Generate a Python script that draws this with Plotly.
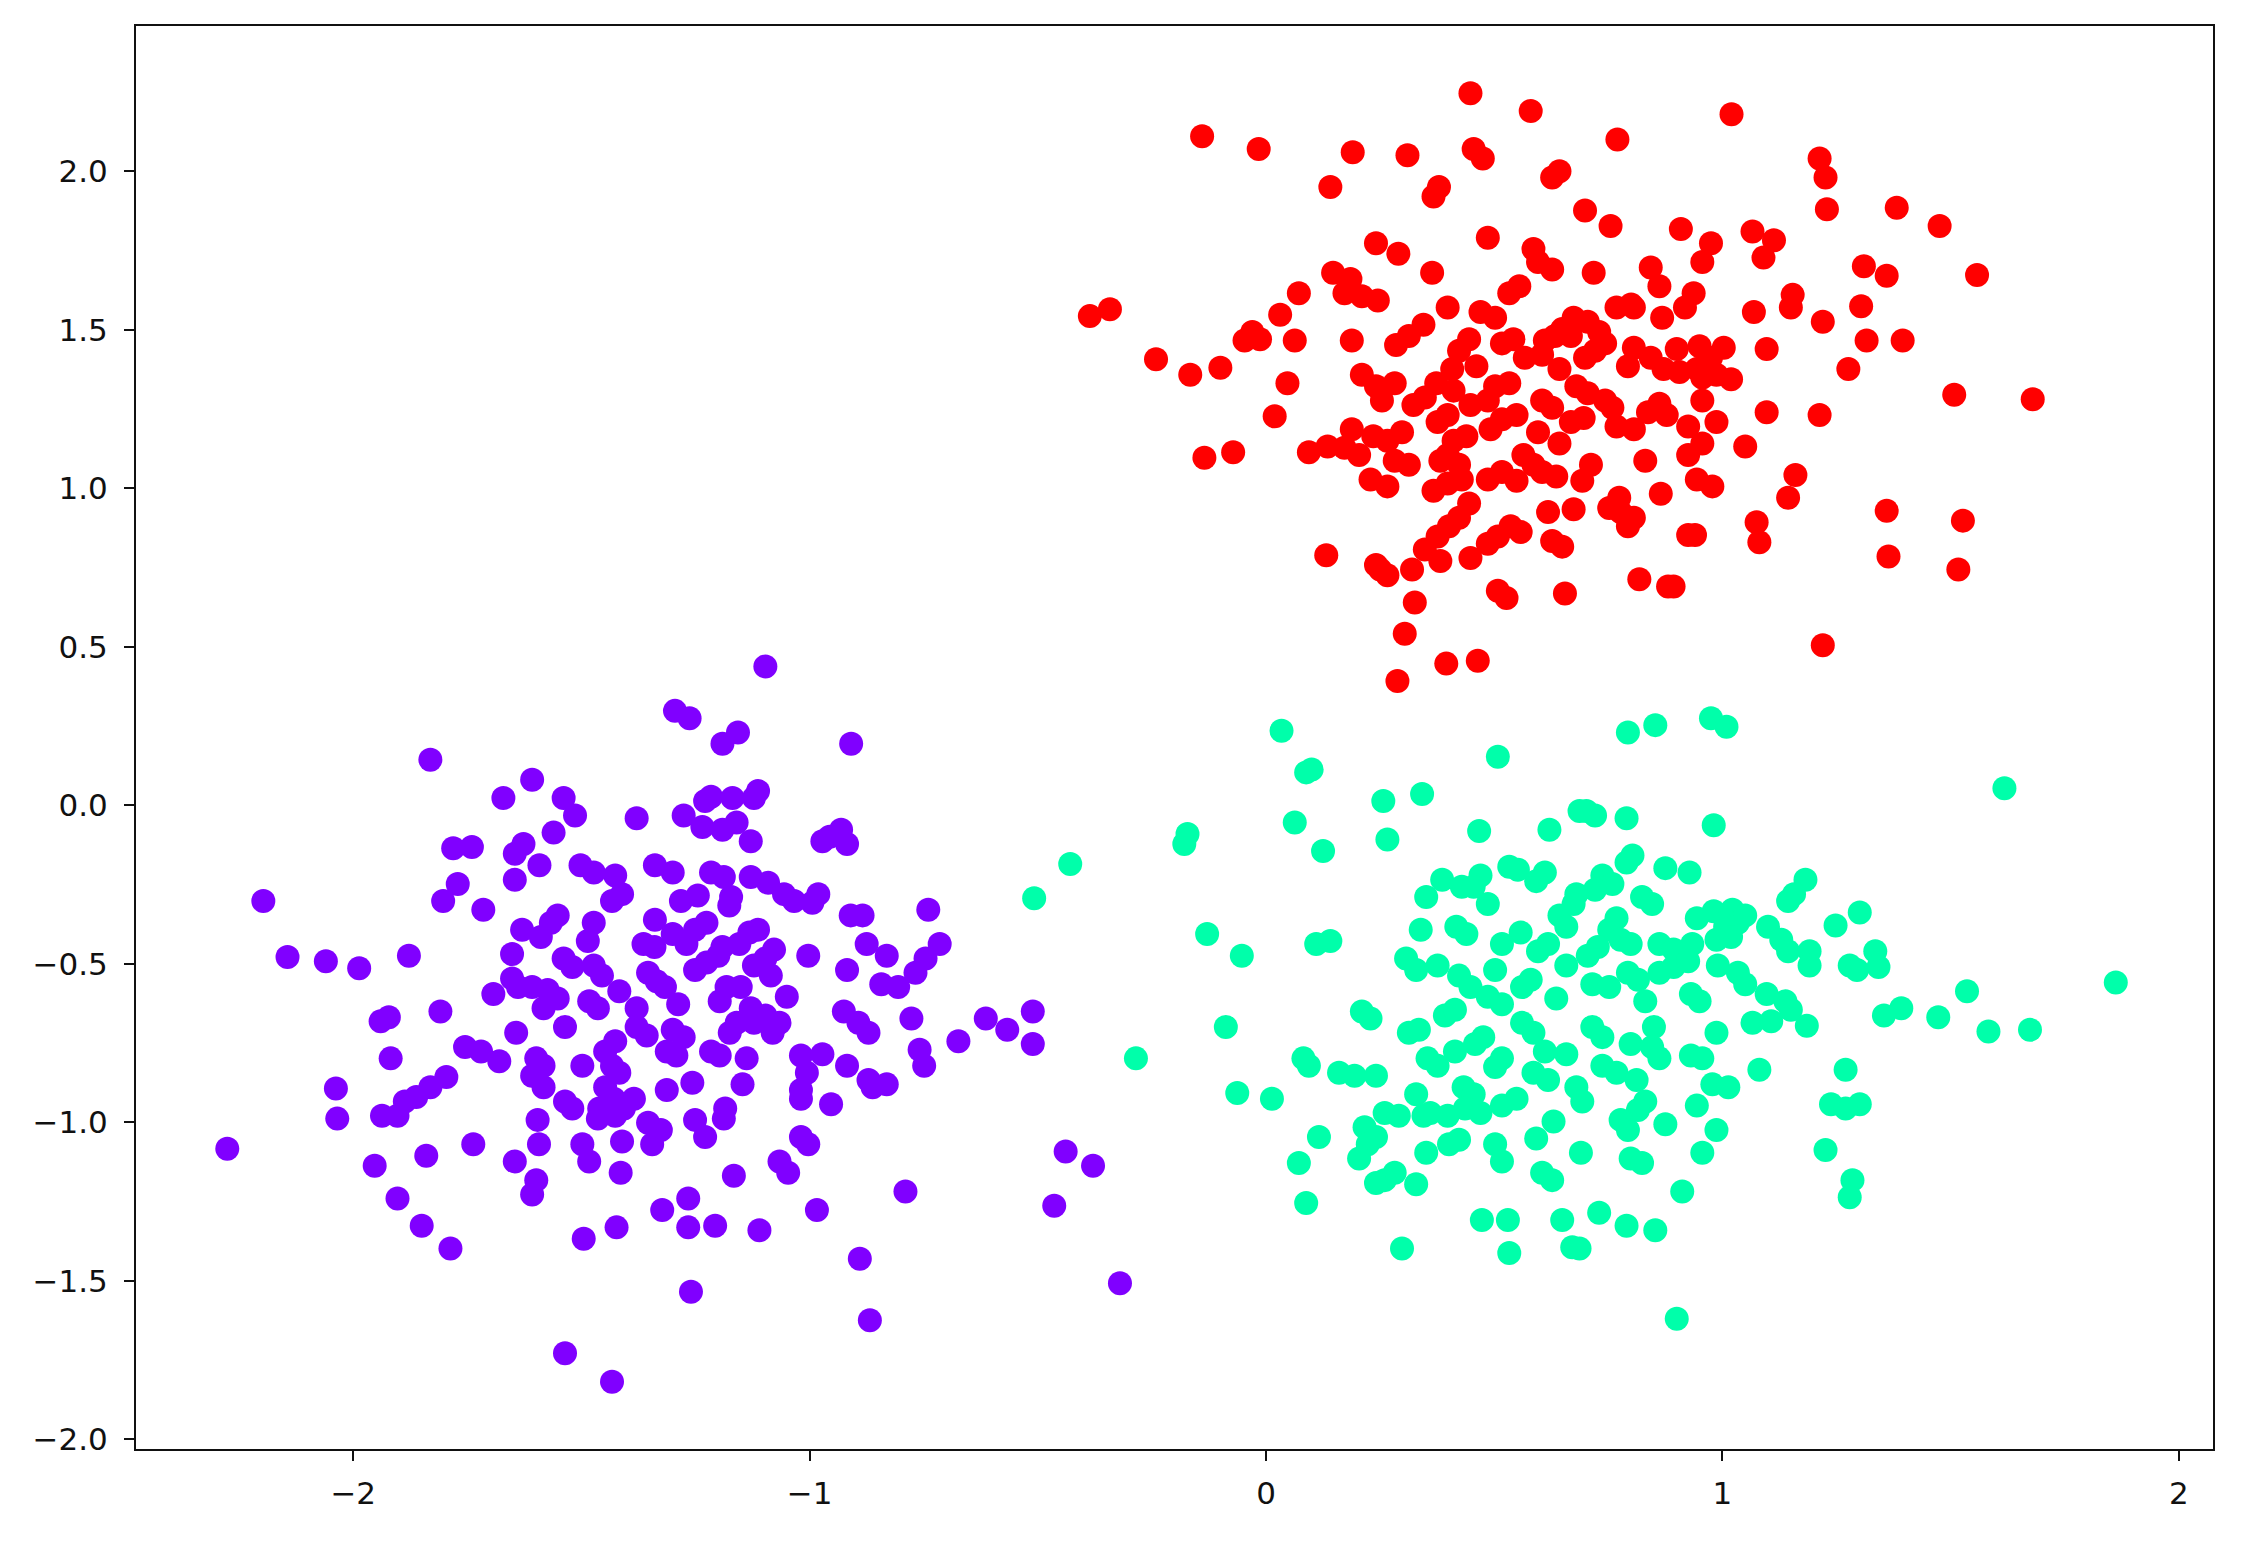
import plotly.graph_objects as go

# cluster 0 (purple)
purple_x = [
    -1.097, -1.295, -1.263, -1.831, -1.157, -1.191, -0.909, -1.608, -1.671, -1.539,
    -1.216, -1.229, -1.113, -1.122, -1.169, -1.514, -1.379, -1.276, -1.191, -1.160,
    -1.627, -1.646, -1.561, -1.740, -1.781, -1.235, -0.956, -0.931, -0.918, -0.972,
    -1.129, -1.502, -1.473, -1.592, -1.426, -1.339, -1.216, -1.188, -1.300, -1.129,
    -1.771, -1.646, -1.091, -1.056, -1.803, -2.197, -1.034, -1.411, -1.433, -1.282,
    -1.245, -1.172, -1.176, -0.994, -0.981, -1.715, -1.552, -1.567, -0.910, -0.884,
    -0.740, -1.473, -1.339, -1.226, -1.251, -1.113, -1.630, -1.589, -1.486, -1.300,
    -1.270, -1.132, -1.154, -1.364, -1.340, -1.191, -1.200, -1.078, -1.097, -0.875,
    -0.715, -2.144, -1.878, -1.003, -1.539, -1.520, -0.831, -1.652, -0.746, -1.473,
    -1.455, -1.251, -1.226, -2.060, -1.987, -1.652, -1.639, -1.608, -1.354, -1.335,
    -1.122, -1.085, -0.918, -0.768, -1.317, -1.182, -1.151, -1.693, -1.574, -1.552,
    -1.417, -0.843, -0.806, -1.197, -1.050, -1.583, -1.483, -1.464, -1.379, -1.288,
    -1.129, -1.097, -1.122, -1.922, -1.940, -1.809, -0.925, -0.893, -0.614, -0.567,
    -0.511, -0.777, -1.536, -1.379, -1.357, -1.300, -1.276, -1.160, -1.175, -1.066,
    -1.081, -1.643, -1.426, -1.448, -0.871, -0.674, -1.755, -0.511, -1.720, -1.313,
    -1.292, -1.216, -1.197, -1.019, -0.759, -0.749, -0.972, -1.918, -1.680, -1.599,
    -1.583, -1.138, -1.498, -1.433, -1.417, -0.918, -1.608, -1.583, -1.796, -1.006,
    -1.831, -1.862, -0.871, -0.862, -0.831, -2.038, -1.448, -1.429, -1.313, -1.257,
    -1.147, -1.019, -1.019, -1.887, -1.536, -1.520, -1.385, -1.407, -1.461, -1.464,
    -1.426, -0.953, -1.185, -1.188, -1.937, -1.903, -2.035, -1.354, -1.326, -1.251,
    -1.596, -1.411, -1.229, -1.019, -1.003, -2.276, -1.737, -1.593, -1.345, -1.840,
    -1.498, -1.483, -0.439, -1.953, -1.646, -1.066, -1.047, -0.379, -1.414, -1.166,
    -1.599, -1.608, -0.790, -1.903, -1.266, -1.323, -0.984, -0.464, -1.850, -1.266,
    -1.207, -1.423, -1.110, -1.495, -1.787, -0.890, -1.260, -0.320, -0.868, -1.536,
    -1.433,
]
purple_y = [
    0.438, 0.298, 0.275, 0.144, 0.230, 0.194, 0.194, 0.081, 0.023, 0.023,
    0.027, 0.014, 0.045, 0.023, 0.023, -0.032, -0.041, -0.032, -0.077, -0.054,
    -0.122, -0.153, -0.086, -0.131, -0.135, -0.068, -0.099, -0.077, -0.122, -0.113,
    -0.113, -0.189, -0.212, -0.189, -0.221, -0.189, -0.212, -0.226, -0.212, -0.226,
    -0.248, -0.235, -0.244, -0.280, -0.302, -0.302, -0.302, -0.280, -0.302, -0.302,
    -0.284, -0.289, -0.316, -0.307, -0.280, -0.329, -0.347, -0.370, -0.347, -0.347,
    -0.329, -0.370, -0.361, -0.370, -0.392, -0.392, -0.392, -0.415, -0.428, -0.406,
    -0.437, -0.401, -0.437, -0.437, -0.447, -0.447, -0.474, -0.455, -0.483, -0.437,
    -0.437, -0.478, -0.474, -0.474, -0.483, -0.510, -0.474, -0.469, -0.483, -0.505,
    -0.537, -0.519, -0.496, -0.492, -0.514, -0.546, -0.573, -0.573, -0.528, -0.555,
    -0.505, -0.537, -0.519, -0.528, -0.573, -0.573, -0.573, -0.595, -0.582, -0.609,
    -0.586, -0.564, -0.573, -0.618, -0.604, -0.640, -0.618, -0.640, -0.640, -0.627,
    -0.640, -0.663, -0.686, -0.668, -0.681, -0.650, -0.650, -0.686, -0.672, -0.708,
    -0.650, -0.672, -0.699, -0.699, -0.726, -0.708, -0.731, -0.686, -0.717, -0.686,
    -0.717, -0.717, -0.744, -0.776, -0.717, -0.744, -0.762, -0.753, -0.776, -0.776,
    -0.789, -0.776, -0.789, -0.789, -0.771, -0.821, -0.785, -0.798, -0.807, -0.798,
    -0.821, -0.798, -0.821, -0.821, -0.843, -0.821, -0.853, -0.889, -0.857, -0.843,
    -0.889, -0.920, -0.866, -0.889, -0.880, -0.893, -0.889, -0.925, -0.898, -0.875,
    -0.880, -0.898, -0.925, -0.934, -0.934, -0.956, -0.925, -0.956, -0.956, -0.988,
    -0.979, -0.943, -0.956, -0.988, -0.979, -0.979, -0.988, -1.001, -1.024, -0.992,
    -0.992, -1.060, -1.046, -1.046, -1.069, -1.083, -1.069, -1.069, -1.069, -1.105,
    -1.069, -1.123, -1.092, -1.137, -1.123, -1.123, -1.159, -1.137, -1.159, -1.168,
    -1.182, -1.227, -1.218, -1.240, -1.240, -1.276, -1.276, -1.263, -1.326, -1.331,
    -1.326, -1.331, -1.340, -1.367, -1.398, -1.430, -1.534, -1.507, -1.624, -1.728,
    -1.818,
]

# cluster 1 (green)
green_x = [
    0.975, 1.009, 0.853, 0.793, 0.034, 0.508, 0.100, 0.088, 1.618, 0.257,
    0.342, 0.702, 0.687, 0.721, 0.063, 0.981, 0.790, 0.621, -0.172, -0.179,
    0.467, 0.266, 0.125, 0.803, 0.790, 0.533, 0.552, 1.182, 0.875, 0.928,
    0.386, 0.429, 0.470, 0.611, 0.592, 0.737, 0.759, 0.721, 0.455, 1.157,
    1.144, 0.351, 0.824, 0.846, 0.680, 0.674, 0.486, 1.301, 0.981, 1.022,
    1.034, 1.050, 1.006, 0.944, 0.768, 0.752, 0.643, 0.658, 1.100, 1.248,
    0.417, 0.439, -0.129, 0.339, 0.558, 1.019, 0.987, 1.129, 1.144, 0.777,
    0.799, 0.862, 0.893, 0.934, 0.110, 0.141, 0.517, 0.618, 0.596, 0.727,
    0.705, 1.335, 1.342, -0.053, 1.191, 1.191, 0.658, 0.990, 1.034, 0.376,
    0.307, 0.329, 0.502, 0.893, 0.925, 1.279, 1.295, 0.793, 0.815, 0.862,
    0.423, 0.448, 0.580, 0.561, 0.715, 0.752, 1.050, 1.097, 1.536, 1.138,
    1.150, 0.486, 0.517, 0.931, 0.950, 0.636, 1.392, 1.354, 0.831, 1.473,
    0.210, 0.229, 0.392, 0.414, 1.066, 1.107, 1.185, 1.583, 1.674, -0.088,
    0.561, 0.586, 0.715, 0.737, 0.850, 0.313, 0.335, 0.476, 0.458, 0.987,
    0.799, 0.846, 0.862, 0.414, 0.611, 0.658, 0.931, 0.956, -0.285, 0.094,
    0.082, 1.081, 1.270, 0.376, 0.354, 0.517, 0.502, 0.737, 0.768, 0.160,
    0.194, 0.241, 0.586, 0.618, 0.812, 0.978, 1.013, 0.433, 0.455, 0.329,
    0.680, 0.549, 0.517, 0.013, -0.063, 0.831, 0.815, 1.238, 1.301, 1.270,
    0.944, 0.693, 0.436, 0.470, 0.260, 0.291, 0.345, 0.360, 0.398, 0.630,
    0.777, 0.793, 0.875, 0.216, 0.987, 0.423, 0.401, 0.223, 0.241, 0.502,
    0.592, 0.116, 0.956, 1.226, 0.351, 0.690, 0.799, 0.824, 0.072, 0.517,
    0.204, 0.282, 0.260, 0.605, 0.627, 0.241, 1.285, 1.279, 0.329, 0.912,
    0.088, 0.730, 0.473, 0.530, 0.649, 0.790, 0.853, 0.671, 0.687, 0.533,
    0.298, 0.900, -0.508, -0.429, 1.862,
]
green_y = [
    0.275, 0.248, 0.253, 0.230, 0.235, 0.153, 0.113, 0.104, 0.054, 0.014,
    0.036, -0.018, -0.018, -0.032, -0.054, -0.063, -0.041, -0.077, -0.090, -0.122,
    -0.081, -0.108, -0.144, -0.158, -0.180, -0.194, -0.203, -0.235, -0.198, -0.212,
    -0.235, -0.257, -0.221, -0.212, -0.239, -0.221, -0.248, -0.266, -0.257, -0.280,
    -0.302, -0.289, -0.289, -0.311, -0.280, -0.311, -0.311, -0.338, -0.334, -0.329,
    -0.370, -0.347, -0.383, -0.356, -0.356, -0.392, -0.347, -0.383, -0.383, -0.379,
    -0.383, -0.406, -0.406, -0.392, -0.401, -0.415, -0.424, -0.424, -0.460, -0.424,
    -0.437, -0.437, -0.455, -0.437, -0.437, -0.428, -0.437, -0.437, -0.460, -0.447,
    -0.474, -0.460, -0.510, -0.474, -0.460, -0.505, -0.505, -0.505, -0.528, -0.505,
    -0.483, -0.519, -0.519, -0.510, -0.492, -0.505, -0.519, -0.528, -0.550, -0.528,
    -0.537, -0.573, -0.550, -0.573, -0.564, -0.573, -0.564, -0.595, -0.586, -0.618,
    -0.645, -0.604, -0.627, -0.595, -0.618, -0.609, -0.640, -0.663, -0.618, -0.668,
    -0.650, -0.672, -0.663, -0.645, -0.686, -0.681, -0.695, -0.713, -0.708, -0.699,
    -0.686, -0.717, -0.699, -0.731, -0.699, -0.717, -0.708, -0.731, -0.753, -0.717,
    -0.753, -0.762, -0.798, -0.776, -0.776, -0.785, -0.789, -0.798, -0.798, -0.821,
    -0.798, -0.834, -0.834, -0.821, -0.798, -0.798, -0.825, -0.821, -0.843, -0.843,
    -0.853, -0.853, -0.843, -0.866, -0.866, -0.880, -0.889, -0.889, -0.911, -0.911,
    -0.889, -0.925, -0.947, -0.925, -0.907, -0.934, -0.961, -0.943, -0.943, -0.956,
    -0.947, -0.934, -0.956, -0.970, -0.970, -0.979, -0.979, -0.970, -0.979, -0.997,
    -0.992, -1.024, -1.006, -1.015, -1.024, -1.055, -1.069, -1.069, -1.046, -1.069,
    -1.051, -1.046, -1.096, -1.087, -1.096, -1.096, -1.114, -1.128, -1.128, -1.123,
    -1.114, -1.159, -1.182, -1.159, -1.182, -1.191, -1.182, -1.236, -1.195, -1.218,
    -1.254, -1.285, -1.308, -1.308, -1.308, -1.326, -1.340, -1.394, -1.398, -1.412,
    -1.398, -1.619, -0.293, -0.185, -0.559,
]

# cluster 2 (red)
red_x = [
    0.448, 0.580, 1.020, -0.140, -0.016, 0.770, 0.190, 0.310, 0.455, 0.475,
    1.213, 1.226, 0.627, 0.643, 0.141, 0.367, 0.379, 1.229, 1.382, 0.699,
    0.755, 1.476, 0.909, 1.066, 0.486, 0.975, 0.956, 1.113, 1.090, 0.241,
    0.586, 0.596, 1.558, 0.290, 1.310, 1.360, 0.147, 0.185, 0.364, 0.627,
    0.718, 0.072, 0.843, 0.862, 0.555, 0.533, 0.172, 0.210, 0.245, 0.937,
    0.918, 1.154, 0.800, 0.768, 0.806, 0.398, 1.304, 1.150, -0.386, -0.342,
    0.031, 0.470, 0.502, 1.220, 1.069, 0.674, 0.705, 0.730, 0.649, 0.668,
    0.345, 0.868, -0.030, -0.047, -0.013, 0.063, 0.188, 0.285, 0.313, 0.445,
    0.423, 0.542, 0.517, 0.611, 0.633, 0.605, 0.743, 0.721, 0.699, 0.806,
    0.900, 0.950, 1.003, 0.975, 1.097, 1.316, 1.395, -0.241, 0.567, 0.461,
    0.408, 0.643, 0.793, 0.843, 0.871, 0.906, 0.944, 0.956, 0.987, 1.019,
    -0.166, -0.100, 0.210, 1.276, 0.047, 0.241, 0.282, 0.502, 0.533, 0.680,
    0.705, 0.373, 0.411, 1.508, 1.680, 0.254, 0.323, 0.348, 0.448, 0.486,
    0.605, 0.627, 0.743, 0.759, 0.862, 0.837, 0.878, 0.956, 0.019, 0.376,
    0.398, 0.517, 0.549, 1.097, 1.213, 0.987, 0.668, 0.696, 0.188, 0.298,
    0.492, 0.596, 0.806, 0.768, 0.925, 0.235, 0.266, 0.411, 0.439, 0.643,
    0.956, 1.050, -0.135, -0.072, 0.094, 0.135, 0.172, 0.204, 0.398, 0.423,
    0.382, 0.564, 0.586, 0.831, 0.925, 0.313, 0.282, 0.712, 1.160, 0.229,
    0.517, 0.486, 0.549, 0.605, 0.636, 0.693, 0.398, 0.429, 0.944, 0.266,
    0.367, 0.978, 0.865, 1.144, 0.774, 0.752, 0.777, 0.445, 1.360, 1.527,
    0.674, 0.806, 0.793, 0.423, 0.401, 0.618, 1.075, 0.536, 0.558, 0.925,
    0.940, 0.376, 0.508, 0.486, 1.081, 0.348, 0.627, 0.649, 1.364, 0.132,
    0.448, 0.382, 0.241, 0.818, 0.881, 0.893, 0.266, 0.250, 1.517, 0.320,
    0.508, 0.655, 0.527, 0.326, 0.304, 1.220, 0.464, 0.395, 0.288,
]
red_y = [
    2.246, 2.190, 2.180, 2.110, 2.070, 2.100, 2.060, 2.050, 2.070, 2.040,
    2.040, 1.980, 1.980, 2.000, 1.950, 1.920, 1.950, 1.880, 1.885, 1.876,
    1.827, 1.827, 1.818, 1.810, 1.790, 1.773, 1.714, 1.782, 1.728, 1.773,
    1.755, 1.714, 1.673, 1.740, 1.700, 1.670, 1.680, 1.660, 1.680, 1.690,
    1.680, 1.615, 1.696, 1.637, 1.637, 1.615, 1.615, 1.606, 1.592, 1.615,
    1.570, 1.610, 1.580, 1.570, 1.570, 1.570, 1.574, 1.570, 1.543, 1.565,
    1.547, 1.556, 1.538, 1.525, 1.556, 1.538, 1.525, 1.493, 1.502, 1.480,
    1.516, 1.538, 1.493, 1.466, 1.470, 1.466, 1.466, 1.452, 1.480, 1.470,
    1.434, 1.470, 1.457, 1.466, 1.480, 1.421, 1.457, 1.434, 1.412, 1.443,
    1.439, 1.448, 1.443, 1.412, 1.439, 1.466, 1.466, 1.407, 1.412, 1.385,
    1.376, 1.376, 1.385, 1.412, 1.376, 1.367, 1.376, 1.349, 1.358, 1.344,
    1.358, 1.380, 1.358, 1.376, 1.331, 1.322, 1.331, 1.322, 1.331, 1.322,
    1.300, 1.331, 1.308, 1.295, 1.281, 1.277, 1.263, 1.286, 1.263, 1.277,
    1.277, 1.254, 1.277, 1.254, 1.267, 1.240, 1.231, 1.277, 1.227, 1.209,
    1.231, 1.218, 1.231, 1.240, 1.231, 1.209, 1.209, 1.222, 1.186, 1.177,
    1.186, 1.177, 1.186, 1.195, 1.195, 1.164, 1.150, 1.150, 1.164, 1.141,
    1.141, 1.132, 1.096, 1.114, 1.114, 1.132, 1.128, 1.105, 1.105, 1.074,
    1.087, 1.105, 1.074, 1.087, 1.105, 1.074, 1.087, 1.074, 1.042, 1.028,
    1.051, 1.028, 1.024, 1.051, 1.037, 1.024, 1.015, 1.028, 1.028, 1.006,
    0.992, 1.006, 0.983, 0.970, 0.970, 0.938, 0.925, 0.952, 0.929, 0.898,
    0.934, 0.907, 0.880, 0.907, 0.880, 0.925, 0.893, 0.880, 0.862, 0.853,
    0.853, 0.848, 0.848, 0.825, 0.830, 0.807, 0.834, 0.816, 0.785, 0.789,
    0.780, 0.771, 0.758, 0.713, 0.690, 0.690, 0.726, 0.744, 0.744, 0.744,
    0.677, 0.668, 0.654, 0.640, 0.541, 0.505, 0.456, 0.447, 0.392,
]

x_ticks = [-2, -1, 0, 1, 2]
y_ticks = [-2.0, -1.5, -1.0, -0.5, 0.0, 0.5, 1.0, 1.5, 2.0]

clusters = [
    (purple_x, purple_y, "#8000ff"),
    (green_x, green_y, "#00ffaa"),
    (red_x, red_y, "#ff0000"),
]

fig = go.Figure()
for xs, ys, color in clusters:
    fig.add_trace(go.Scatter(
        x=xs, y=ys, mode="markers",
        marker=dict(size=24, color=color, line=dict(width=0)),
        showlegend=False,
    ))

# matplotlib-like frame with outside ticks
axis_style = dict(
    showgrid=False, zeroline=False,
    showline=True, linecolor="#111", linewidth=2, mirror=True,
    ticks="outside", ticklen=10, tickwidth=2, tickcolor="#111",
    tickfont=dict(family="DejaVu Sans", size=31, color="#111"),
)

# page body adds ~8px offset, so size/margins are compensated
fig.update_layout(
    width=2227, height=1532,
    margin=dict(l=128, r=22, t=18, b=91),
    plot_bgcolor="white", paper_bgcolor="white",
    xaxis=dict(range=[-2.476, 2.075], tickvals=x_ticks, ticklabelstandoff=6, **axis_style),
    yaxis=dict(range=[-2.03, 2.458], tickvals=y_ticks, tickformat=".1f",
               ticklabelstandoff=10, **axis_style),
)

fig.write_html("out.html")
